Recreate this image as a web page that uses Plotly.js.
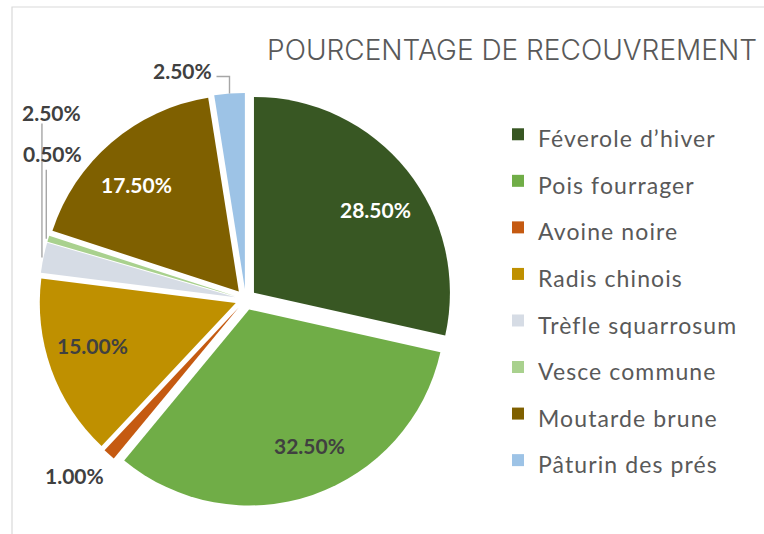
<!DOCTYPE html>
<html>
<head>
<meta charset="utf-8">
<script src="https://cdn.plot.ly/plotly-3.0.1.min.js"></script>
<style>html,body{margin:0;padding:0;background:#fff;}#chart{width:764px;height:534px;}</style>
</head>
<body>
<div id="chart"></div>
<script>
// ---- data ----
const categories = ["Féverole d’hiver", "Pois fourrager", "Avoine noire", "Radis chinois",
                    "Trèfle squarrosum", "Vesce commune", "Moutarde brune", "Pâturin des prés"];
const values = [28.5, 32.5, 1.0, 15.0, 2.5, 0.5, 17.5, 2.5];
const colors = ["#385723", "#70AD47", "#C55A11", "#BF9000", "#D6DCE5", "#A9D18E", "#7F6000", "#9DC3E6"];
const chartTitle = "POURCENTAGE DE RECOUVREMENT";

// ---- layout parameters ----
const W = 764, H = 534;
const pull = 0.054;
const dom = {x: [0.0512, 0.592], y: [0.0524, 0.826]};
const labelColor = ["#ffffff", "#404040", "#404040", "#404040", "#404040", "#404040", "#ffffff", "#404040"];
// label placement: "in" = inside at radius fraction, "out" = outside at slice edge; dx,dy pixel tweaks (screen, y down)
const labelPlace = [
  {mode: "in", dx: 3, dy: 12},
  {mode: "in", dx: 11, dy: -8},
  {mode: "out", dx: -35, dy: 21},
  {mode: "in", dx: 0, dy: -9},
  {mode: "out", dx: 8, dy: -145, leader: [[-1.5, 0], [-1.5, -134]]},
  {mode: "out", dx: 4, dy: -85, leader: [[-2, 0], [-2, -69]]},
  {mode: "in", dx: -4, dy: 9},
  {mode: "out", dx: -47, dy: -23, leader: [[0, 0], [0, -17], [-13, -17]]}
];
const inFrac = 0.83;

const total = values.reduce((a, b) => a + b, 0);
const fmt = v => (100 * v / total).toFixed(2) + "%";

// geometry of the pie derived from its domain
const wd = W * (dom.x[1] - dom.x[0]), hd = H * (dom.y[1] - dom.y[0]);
const r = Math.min(wd, hd) / 2 / (1 + pull);
const cx = W * (dom.x[0] + dom.x[1]) / 2;
const cy = H * (1 - (dom.y[0] + dom.y[1]) / 2);
const toPaper = (x, y) => [x / W, 1 - y / H];

const annotations = [];
const shapes = [{
  type: "rect", xref: "paper", yref: "paper",
  x0: 12 / W, x1: 1.1, y0: -0.1, y1: 1 - 7 / H,
  line: {color: "#D9D9D9", width: 1.2}, fillcolor: "rgba(0,0,0,0)", layer: "below"
}];
let cum = 0;
values.forEach((v, i) => {
  const mid = 2 * Math.PI * (cum + v / 2) / total;
  cum += v;
  const p = labelPlace[i];
  const rad = p.mode === "in" ? r * inFrac : r * (1 + pull);
  const px = cx + rad * Math.sin(mid);
  const py = cy - rad * Math.cos(mid);
  const [xp, yp] = toPaper(px, py);
  annotations.push({
    x: xp, y: yp, xref: "paper", yref: "paper",
    xanchor: "center", yanchor: "middle",
    xshift: p.dx, yshift: -p.dy,
    showarrow: false,
    text: fmt(v),
    font: {family: "Lato", size: 21, weight: 700, color: labelColor[i]}
  });
  if (p.leader) {
    const path = p.leader.map((q, k) => {
      const [a, b] = toPaper(px + q[0], py + q[1]);
      return (k ? "L" : "M") + a + "," + b;
    }).join(" ");
    shapes.push({type: "path", xref: "paper", yref: "paper", path: path,
                 line: {color: "#A6A6A6", width: 1.4}});
  }
});

const trace = {
  type: "pie",
  labels: categories.map(c => '<span style="font-size:23px;letter-spacing:1.1px">' + c + '</span>'),
  values: values,
  sort: false,
  direction: "clockwise",
  rotation: 0,
  pull: pull,
  domain: dom,
  marker: {colors: colors, line: {width: 0}},
  textinfo: "none",
  hoverinfo: "none"
};

const layout = {
  width: W, height: H,
  margin: {l: 0, r: 0, t: 0, b: 0},
  paper_bgcolor: "#ffffff",
  showlegend: true,
  title: {
    text: chartTitle,
    font: {family: "Inter", size: 28, weight: 300, color: "#595959"},
    x: 757 / W, xanchor: "right", xref: "paper",
    y: 1 - 50 / H, yanchor: "middle", yref: "paper"
  },
  legend: {
    x: 498 / W, xanchor: "left",
    y: 1 - 106 / H, yanchor: "top",
    font: {family: "Lato", size: 33.5, color: "#595959"},
    bgcolor: "rgba(0,0,0,0)"
  },
  shapes: shapes,
  annotations: annotations
};

Plotly.newPlot("chart", [trace], layout, {displayModeBar: false, staticPlot: true});
</script>
</body>
</html>
